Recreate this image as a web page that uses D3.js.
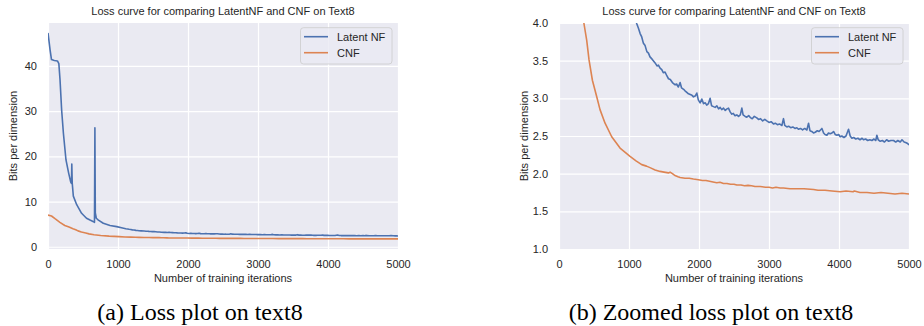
<!DOCTYPE html>
<html>
<head>
<meta charset="utf-8">
<script src="https://cdn.jsdelivr.net/npm/d3@7/dist/d3.min.js"></script>
<style>
  body { margin: 0; background: #fff; }
  svg { display: block; }
  .tick text { font-family: "Liberation Sans", Arial, sans-serif; font-size: 11px; fill: #262626; }
</style>
</head>
<body>
<svg id="chart" width="924" height="326"></svg>
<script>
// ---- data ----
var latentIters = [0,30,50,90,135,155,172,195,220,257,295,325,335,340,346,362,410,480,550,600,650,664,670,676,690,720,790,886,981,1050,
  1111,1135,1159,1180,1206,1230,1255,1278,1300,1330,1373,1400,1420,1444,1468,1490,1515,1540,1564,1590,1620,1659,1680,1705,1730,1750,1780,1800,1826,1850,
  1875,1900,1921,1945,1969,1990,2016,2040,2065,2090,2110,2135,2159,2180,2207,2230,2255,2280,2302,2325,2350,2375,2400,2421,2445,2469,2490,2515,2540,2565,
  2590,2612,2630,2660,2683,2710,2740,2760,2790,2826,2850,2880,2910,2940,2969,3000,3030,3064,3090,3120,3150,3184,3207,3225,3255,3280,3310,3340,3370,3398,
  3420,3450,3480,3510,3541,3565,3585,3610,3636,3660,3690,3715,3756,3780,3800,3827,3850,3875,3900,3922,3945,3970,3995,4017,4040,4070,4100,4136,4160,4184,
  4210,4240,4270,4300,4330,4350,4380,4410,4440,4470,4500,4525,4541,4560,4589,4620,4650,4680,4710,4740,4780,4810,4840,4875,4900,4930,4960,4980,5000];
var latentBpd = [47.3,43.5,41.4,41.2,41.1,40.5,36.9,30.2,25.1,19.2,16.3,14.3,14.0,18.3,14.1,11.2,9.3,7.4,6.3,5.9,5.55,5.4,26.3,7.5,6.3,5.9,5.2,4.7,4.45,4.2,
  3.99,3.93,3.86,3.82,3.73,3.70,3.62,3.60,3.55,3.52,3.47,3.43,3.44,3.40,3.38,3.34,3.35,3.30,3.26,3.25,3.21,3.18,3.19,3.15,3.21,3.14,3.12,3.10,3.08,3.06,
  3.05,3.04,3.02,3.03,3.07,2.98,2.94,2.99,2.93,2.94,2.91,2.93,3.00,2.90,2.89,2.88,2.90,2.86,2.88,2.85,2.87,2.84,2.86,2.87,2.82,2.79,2.80,2.77,2.78,2.76,
  2.78,2.87,2.78,2.76,2.75,2.77,2.74,2.73,2.76,2.74,2.72,2.73,2.70,2.72,2.70,2.68,2.69,2.66,2.67,2.65,2.66,2.64,2.73,2.64,2.62,2.63,2.61,2.62,2.60,2.61,
  2.59,2.60,2.58,2.60,2.58,2.67,2.57,2.56,2.54,2.55,2.57,2.56,2.60,2.54,2.52,2.51,2.54,2.53,2.54,2.56,2.52,2.51,2.52,2.49,2.50,2.48,2.50,2.59,2.50,2.47,
  2.48,2.46,2.47,2.45,2.47,2.45,2.46,2.44,2.45,2.44,2.46,2.44,2.51,2.45,2.43,2.44,2.42,2.45,2.43,2.44,2.44,2.42,2.44,2.42,2.45,2.42,2.41,2.40,2.38];

var cnfIters = [0,50,100,170,240,300,357,396,429,477,539,586,658,753,872,1015,1100,1182,1250,1300,1373,1444,1500,1563,1587,1620,1649,1700,1730,1800,
  1860,1920,1992,2050,2100,2150,2200,2254,2300,2350,2400,2450,2500,2540,2600,2650,2700,2750,2800,2874,2950,3000,3050,3100,3160,3207,3300,3400,3500,3637,
  3700,3800,3900,4018,4100,4200,4220,4300,4400,4500,4600,4700,4800,4900,5000];
var cnfBpd = [7.0,6.8,6.2,5.4,4.7,4.35,3.99,3.77,3.51,3.24,3.02,2.85,2.67,2.49,2.34,2.23,2.17,2.12,2.10,2.08,2.05,2.03,2.02,2.01,2.02,2.00,1.98,1.96,1.95,1.94,
  1.94,1.93,1.92,1.91,1.91,1.90,1.89,1.88,1.885,1.87,1.87,1.86,1.86,1.85,1.85,1.84,1.845,1.84,1.83,1.83,1.82,1.82,1.81,1.82,1.81,1.81,1.80,1.80,1.80,1.79,
  1.78,1.78,1.77,1.76,1.77,1.76,1.77,1.75,1.75,1.74,1.75,1.74,1.73,1.74,1.73];

var xTicks = [0,1000,2000,3000,4000,5000];
var leftYTicks = [0,10,20,30,40];
var rightYTicks = [1.0,1.5,2.0,2.5,3.0,3.5,4.0];
var seriesNames = ["Latent NF","CNF"];
var seriesColors = ["#4C72B0","#DD8452"];
var titleText = "Loss curve for comparing LatentNF and CNF on Text8";
var captions = ["(a) Loss plot on text8","(b) Zoomed loss plot on text8"];

var series = [
  {name: seriesNames[0], color: seriesColors[0], pts: latentIters.map(function(x,i){ return [x, latentBpd[i]]; })},
  {name: seriesNames[1], color: seriesColors[1], pts: cnfIters.map(function(x,i){ return [x, cnfBpd[i]]; })}
];

var svg = d3.select('#chart');
var font = '"Liberation Sans", Arial, sans-serif';

function panel(id, left, yDomain, yTicks, yFmt, caption) {
  var w = 350, h = 226, top = 23;
  var g = svg.append('g').attr('transform','translate('+left+','+top+')');
  var x = d3.scaleLinear().domain([0,5000]).range([0,w]);
  var y = d3.scaleLinear().domain(yDomain).range([h,0]);

  g.append('rect').attr('width',w).attr('height',h).attr('fill','#EAEAF2');

  // grid
  g.append('g').attr('transform','translate(0,'+h+')')
    .call(d3.axisBottom(x).tickValues(xTicks).tickSize(-h).tickFormat(''))
    .call(function(s){ s.select('.domain').remove(); s.selectAll('line').attr('stroke','#fff').attr('stroke-width',1.2); });
  g.append('g')
    .call(d3.axisLeft(y).tickValues(yTicks).tickSize(-w).tickFormat(''))
    .call(function(s){ s.select('.domain').remove(); s.selectAll('line').attr('stroke','#fff').attr('stroke-width',1.2); });

  // tick labels
  g.append('g').attr('transform','translate(0,'+h+')')
    .call(d3.axisBottom(x).tickValues(xTicks).tickSize(0).tickPadding(11).tickFormat(d3.format('d')))
    .call(function(s){ s.select('.domain').remove(); });
  g.append('g')
    .call(d3.axisLeft(y).tickValues(yTicks).tickSize(0).tickPadding(11).tickFormat(d3.format(yFmt)))
    .call(function(s){ s.select('.domain').remove(); });

  // lines
  g.append('clipPath').attr('id','clip'+id).append('rect').attr('width',w).attr('height',h);
  var line = d3.line().x(function(d){ return x(d[0]); }).y(function(d){ return y(d[1]); });
  g.append('g').attr('clip-path','url(#clip'+id+')')
    .selectAll('path').data(series).enter().append('path')
    .attr('d',function(d){ return line(d.pts); })
    .attr('fill','none').attr('stroke',function(d){ return d.color; })
    .attr('stroke-width',1.6).attr('stroke-linejoin','round');

  // title & labels
  g.append('text').attr('x',w/2).attr('y',-8).attr('text-anchor','middle')
    .style('font-family',font).style('font-size','11px').attr('fill','#262626').text(titleText);
  g.append('text').attr('x',w/2).attr('y',h+33).attr('text-anchor','middle')
    .style('font-family',font).style('font-size','11px').attr('fill','#262626').text('Number of training iterations');
  g.append('text').attr('transform','translate(-31,'+(h/2)+')rotate(-90)').attr('text-anchor','middle')
    .style('font-family',font).style('font-size','11px').attr('fill','#262626').text('Bits per dimension');

  // legend
  var lg = g.append('g').attr('transform','translate('+(w-97.5)+',4.7)');
  lg.append('rect').attr('width',91.5).attr('height',36.3).attr('rx',3)
    .attr('fill','#EAEAF2').attr('fill-opacity',0.8).attr('stroke','#CCCCCC').attr('stroke-width',0.8);
  var item = lg.selectAll('g.item').data(series).enter().append('g').classed('item',true)
    .attr('transform',function(d,i){ return 'translate(0,'+(9+i*16)+')'; });
  item.append('line').attr('x1',3.5).attr('x2',27.5).attr('stroke',function(d){ return d.color; }).attr('stroke-width',1.6);
  item.append('text').attr('x',36.5).attr('dy','0.35em')
    .style('font-family',font).style('font-size','11px').attr('fill','#262626').text(function(d){ return d.name; });

  // caption
  svg.append('text').attr('x',left+w/2 - 23).attr('y',320).attr('text-anchor','middle')
    .style('font-family','"Liberation Serif", "Times New Roman", serif').style('font-size','24px').attr('fill','#000')
    .text(caption);
}

panel('a', 48, [-0.5,49.5], leftYTicks, 'd', captions[0]);
panel('b', 559, [1,4], rightYTicks, '.1f', captions[1]);
</script>
</body>
</html>
